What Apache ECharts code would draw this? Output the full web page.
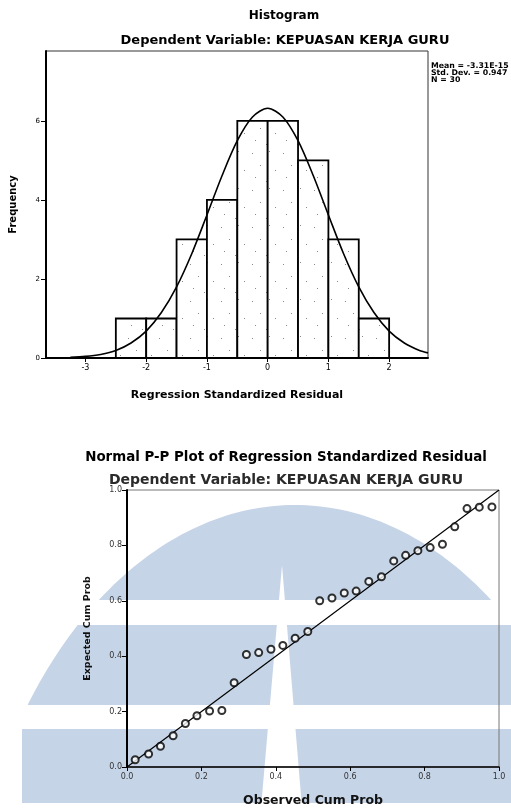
<!DOCTYPE html>
<html><head><meta charset="utf-8">
<script src="https://cdn.jsdelivr.net/npm/echarts@6/dist/echarts.min.js"></script>
<style>html,body{margin:0;padding:0;background:#fff}#c{width:511px;height:808px}</style>
</head><body><div id="c"></div>
<script>
// ---- Histogram data ----
const binStarts   = [-2.5, -2, -1.5, -1, -0.5, 0, 0.5, 1, 1.5];
const binEnds     = [-2, -1.5, -1, -0.5, 0, 0.5, 1, 1.5, 2];
const frequencies = [1, 1, 3, 4, 6, 6, 5, 3, 1];
const histXTicks  = [-3, -2, -1, 0, 1, 2];
const histYTicks  = [0, 2, 4, 6];
// normal curve
const curveX = [-3.25,-3,-2.75,-2.5,-2.25,-2,-1.75,-1.5,-1.25,-1,-0.75,-0.5,-0.25,0,0.25,0.5,0.75,1,1.25,1.5,1.75,2,2.25,2.5,2.64];
const curveY = [0.02,0.04,0.09,0.19,0.38,0.68,1.15,1.80,2.64,3.62,4.62,5.50,6.10,6.32,6.10,5.50,4.62,3.62,2.64,1.80,1.15,0.68,0.38,0.19,0.13];
const statsLines = ['Mean = -3.31E-15', 'Std. Dev. = 0.947', 'N = 30'];

// ---- P-P plot data ----
const observedCum = [0.022,0.058,0.090,0.124,0.157,0.188,0.222,0.255,0.288,0.321,0.354,0.387,0.419,0.452,0.486,0.518,0.551,0.584,0.616,0.650,0.684,0.717,0.749,0.782,0.815,0.848,0.881,0.914,0.947,0.981];
const expectedCum = [0.026,0.047,0.075,0.113,0.157,0.185,0.202,0.204,0.304,0.406,0.413,0.425,0.439,0.465,0.489,0.600,0.610,0.628,0.635,0.670,0.687,0.744,0.764,0.781,0.792,0.804,0.867,0.933,0.938,0.939];
const diagonal = [[0, 0], [1, 1]];

const FONT = 'DejaVu Sans';

// sparse stipple pattern for bars
const pc = document.createElement('canvas');
pc.width = 31; pc.height = 37;
const g = pc.getContext('2d');
g.fillStyle = '#fff'; g.fillRect(0, 0, 31, 37);
g.fillStyle = '#888';
[[4,5],[21,3],[12,17],[27,22],[7,29],[18,33]].forEach(p => g.fillRect(p[0], p[1], 1, 1));
const stipple = { image: pc, repeat: 'repeat' };

// watermark dome (ellipse polygon)
const dome = [];
for (let i = 0; i <= 180; i++) {
  const t = Math.PI * i / 180;
  const x = 295 - 333 * Math.cos(t);
  const y = 1000 - 495 * Math.sin(t);
  dome.push([Math.max(x, 22), y]);
}
dome.push([22, 808]);
const WM = '#c6d4e7';

const chart = echarts.init(document.getElementById('c'), null, { renderer: 'canvas' });
chart.setOption({
  animation: false,
  graphic: [
    { type: 'polygon', z: -10, silent: true, shape: { points: dome }, style: { fill: WM } },
    { type: 'rect', z: -9, silent: true, shape: { x: 0, y: 600, width: 511, height: 25 }, style: { fill: '#fff' } },
    { type: 'rect', z: -9, silent: true, shape: { x: 0, y: 705, width: 511, height: 24 }, style: { fill: '#fff' } },
    { type: 'rect', z: -9, silent: true, shape: { x: 0, y: 803, width: 511, height: 10 }, style: { fill: '#fff' } },
    { type: 'polygon', z: -9, silent: true, shape: { points: [[282, 565], [261, 808], [302, 808]] }, style: { fill: '#fff' } },
    { type: 'text', style: { x: 284, y: 16, text: 'Histogram', textAlign: 'center', textVerticalAlign: 'middle', font: 'bold 12px "' + FONT + '"', fill: '#000' } },
    { type: 'text', style: { x: 285, y: 41, text: 'Dependent Variable: KEPUASAN KERJA GURU', textAlign: 'center', textVerticalAlign: 'middle', font: 'bold 13px "' + FONT + '"', fill: '#000' } },
    { type: 'text', style: { x: 431, y: 73, text: statsLines.join('\n'), textAlign: 'left', textVerticalAlign: 'middle', font: 'bold 7.8px "' + FONT + '"', lineHeight: 6.6, fill: '#000' } },
    { type: 'text', style: { x: 286, y: 458, text: 'Normal P-P Plot of Regression Standardized Residual', textAlign: 'center', textVerticalAlign: 'middle', font: 'bold 13.4px "' + FONT + '"', fill: '#000' } },
    { type: 'text', style: { x: 286, y: 480, text: 'Dependent Variable: KEPUASAN KERJA GURU', textAlign: 'center', textVerticalAlign: 'middle', font: 'bold 14px "' + FONT + '"', fill: '#2a2a2a' } }
  ],
  grid: [
    { left: 46, top: 51, width: 382, height: 307, show: true, borderColor: '#333', borderWidth: 1 },
    { left: 127, top: 490, width: 372, height: 284, show: true, borderColor: '#777', borderWidth: 1 }
  ],
  xAxis: [
    {
      type: 'value', gridIndex: 0, min: -3.65, max: 2.64,
      name: 'Regression Standardized Residual', nameLocation: 'middle', nameGap: 32,
      nameTextStyle: { fontFamily: FONT, fontWeight: 'bold', fontSize: 11, color: '#000' },
      axisLine: { show: true, onZero: false, lineStyle: { color: '#000', width: 2 } },
      axisTick: { show: true, customValues: histXTicks, length: 4, lineStyle: { color: '#000', width: 1 } },
      axisLabel: { customValues: histXTicks, fontFamily: FONT, fontSize: 8, color: '#000', margin: 6 },
      splitLine: { show: false }
    },
    {
      type: 'value', gridIndex: 1, min: 0, max: 1, interval: 0.2,
      name: 'Observed Cum Prob', nameLocation: 'middle', nameGap: 27,
      nameTextStyle: { fontFamily: FONT, fontWeight: 'bold', fontSize: 12.5, color: '#111' },
      axisLine: { show: true, onZero: false, lineStyle: { color: '#000', width: 1.5 } },
      axisTick: { show: true, length: 4, lineStyle: { color: '#000' } },
      axisLabel: { fontFamily: FONT, fontSize: 8, color: '#333', margin: 6, formatter: v => v.toFixed(1) },
      splitLine: { show: false }
    }
  ],
  yAxis: [
    {
      type: 'value', gridIndex: 0, min: 0, max: 7.77,
      name: 'Frequency', nameLocation: 'middle', nameGap: 28,
      nameTextStyle: { fontFamily: FONT, fontWeight: 'bold', fontSize: 10, color: '#000' },
      axisLine: { show: true, onZero: false, lineStyle: { color: '#000', width: 2 } },
      axisTick: { show: true, customValues: histYTicks, length: 5, lineStyle: { color: '#000' } },
      axisLabel: { customValues: histYTicks, fontFamily: FONT, fontSize: 7, color: '#000', margin: 6 },
      splitLine: { show: false }
    },
    {
      type: 'value', gridIndex: 1, min: 0, max: 1, interval: 0.2,
      name: 'Expected Cum Prob', nameLocation: 'middle', nameGap: 34,
      nameTextStyle: { fontFamily: FONT, fontWeight: 'bold', fontSize: 9.5, color: '#111' },
      axisLine: { show: true, onZero: false, lineStyle: { color: '#000', width: 2 } },
      axisTick: { show: true, length: 5, lineStyle: { color: '#000' } },
      axisLabel: { fontFamily: FONT, fontSize: 8, color: '#333', margin: 5, formatter: v => v.toFixed(1) },
      splitLine: { show: false }
    }
  ],
  series: [
    {
      type: 'custom', xAxisIndex: 0, yAxisIndex: 0,
      data: binStarts.map((s, i) => [s, binEnds[i], frequencies[i]]),
      encode: { x: [0, 1], y: 2 },
      renderItem: function (params, api) {
        const p0 = api.coord([api.value(0), api.value(2)]);
        const p1 = api.coord([api.value(1), 0]);
        return {
          type: 'rect',
          shape: { x: p0[0], y: p0[1], width: p1[0] - p0[0], height: p1[1] - p0[1] },
          style: { fill: stipple, stroke: '#000', lineWidth: 1.8 }
        };
      },
      z: 2
    },
    {
      type: 'line', xAxisIndex: 0, yAxisIndex: 0,
      data: curveX.map((x, i) => [x, curveY[i]]),
      smooth: 0.3, showSymbol: false, symbol: 'none', clip: true,
      lineStyle: { color: '#000', width: 1.6 }, z: 3
    },
    {
      type: 'line', xAxisIndex: 1, yAxisIndex: 1,
      data: diagonal, showSymbol: false, symbol: 'none',
      lineStyle: { color: '#000', width: 1.2 }, z: 3
    },
    {
      type: 'scatter', xAxisIndex: 1, yAxisIndex: 1,
      data: observedCum.map((o, i) => [o, expectedCum[i]]),
      symbol: 'emptyCircle', symbolSize: 7,
      itemStyle: { color: '#000', borderColor: '#000', borderWidth: 1 }, z: 4
    }
  ]
});
</script>
</body></html>
